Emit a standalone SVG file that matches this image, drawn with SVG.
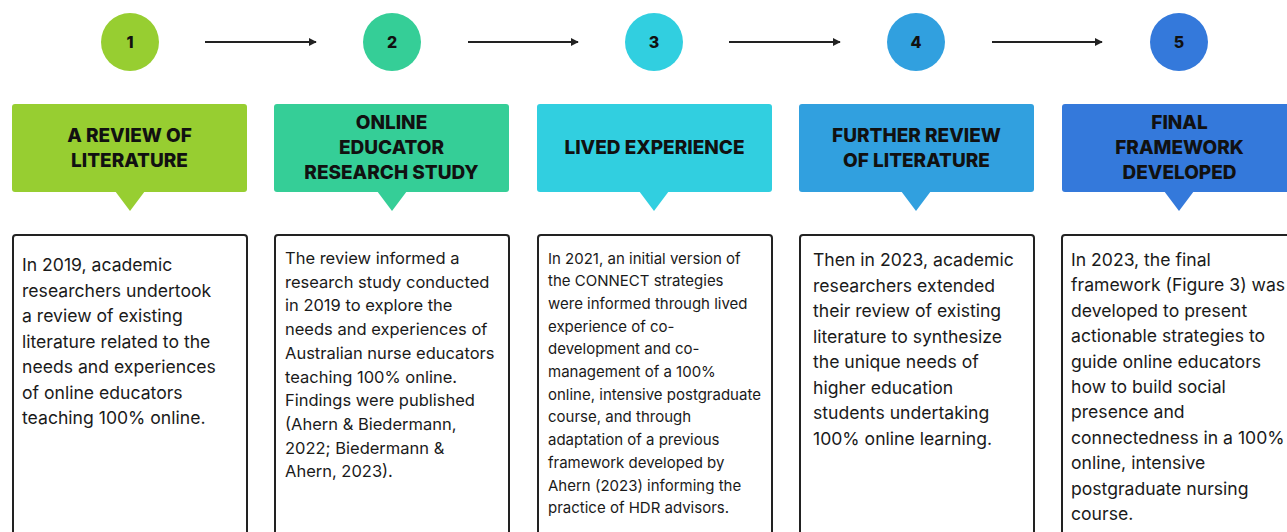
<svg xmlns="http://www.w3.org/2000/svg" width="1287" height="532" viewBox="0 0 1287 532">
<defs>
<style>
.num{font-family:Inter,"Liberation Sans",sans-serif;font-weight:800;font-size:16px;fill:#111;text-anchor:middle}
.ttl{font-family:Inter,"Liberation Sans",sans-serif;font-weight:800;font-size:19px;fill:#111;text-anchor:middle}
.body{font-family:Inter,"Liberation Sans",sans-serif;font-size:17.6px;fill:#1a1a1a}
.b2{font-size:16.5px}
.b3{font-size:15px}
.card{fill:#fff;stroke:#222;stroke-width:2}
.conn{stroke:#222;stroke-width:2;fill:none}
</style>
<marker id="ah" viewBox="0 0 10 10" refX="9" refY="5" markerWidth="4" markerHeight="4" orient="auto">
<path d="M0,0 L10,5 L0,10 z" fill="#222"/>
</marker>
</defs>
<rect width="1287" height="532" fill="#fff"/>

<g id="connectors">
<line class="conn" x1="205" y1="42" x2="316" y2="42" marker-end="url(#ah)"/>
<line class="conn" x1="468" y1="42" x2="578" y2="42" marker-end="url(#ah)"/>
<line class="conn" x1="729" y1="42" x2="840" y2="42" marker-end="url(#ah)"/>
<line class="conn" x1="992" y1="42" x2="1102" y2="42" marker-end="url(#ah)"/>
</g>

<g id="step1">
<circle cx="130" cy="42" r="29" fill="#97ce31"/>
<text class="num" x="130" y="48">1</text>
<rect x="12" y="104" width="235" height="88" rx="3" fill="#97ce31"/>
<path d="M115,191 L145,191 L130,211 z" fill="#97ce31"/>
<text class="ttl" x="129.5" y="142">A REVIEW OF</text>
<text class="ttl" x="129.5" y="167">LITERATURE</text>
<rect class="card" x="13" y="235" width="234" height="320" rx="3"/>
<text class="body" x="22"><tspan x="22" y="271">In 2019, academic</tspan><tspan x="22" y="296.5">researchers undertook</tspan><tspan x="22" y="322">a review of existing</tspan><tspan x="22" y="347.5">literature related to the</tspan><tspan x="22" y="373">needs and experiences</tspan><tspan x="22" y="398.5">of online educators</tspan><tspan x="22" y="424">teaching 100% online.</tspan></text>
</g>

<g id="step2">
<circle cx="392" cy="42" r="29" fill="#35ce97"/>
<text class="num" x="392" y="48">2</text>
<rect x="274" y="104" width="235" height="88" rx="3" fill="#35ce97"/>
<path d="M377,191 L407,191 L392,211 z" fill="#35ce97"/>
<text class="ttl" x="391.5" y="129">ONLINE</text>
<text class="ttl" x="391.5" y="154">EDUCATOR</text>
<text class="ttl" x="391.5" y="179">RESEARCH STUDY</text>
<rect class="card" x="275" y="235" width="234" height="320" rx="3"/>
<text class="body b2"><tspan x="285" y="264">The review informed a</tspan><tspan x="285" y="287.7">research study conducted</tspan><tspan x="285" y="311.4">in 2019 to explore the</tspan><tspan x="285" y="335.1">needs and experiences of</tspan><tspan x="285" y="358.8">Australian nurse educators</tspan><tspan x="285" y="382.5">teaching 100% online.</tspan><tspan x="285" y="406.2">Findings were published</tspan><tspan x="285" y="429.9">(Ahern &amp; Biedermann,</tspan><tspan x="285" y="453.6">2022; Biedermann &amp;</tspan><tspan x="285" y="477.3">Ahern, 2023).</tspan></text>
</g>

<g id="step3">
<circle cx="654" cy="42" r="29" fill="#31cfe0"/>
<text class="num" x="654" y="48">3</text>
<rect x="537" y="104" width="235" height="88" rx="3" fill="#31cfe0"/>
<path d="M639,191 L669,191 L654,211 z" fill="#31cfe0"/>
<text class="ttl" x="654.5" y="154">LIVED EXPERIENCE</text>
<rect class="card" x="538" y="235" width="234" height="320" rx="3"/>
<text class="body b3"><tspan x="548" y="263.5">In 2021, an initial version of</tspan><tspan x="548" y="286.2">the CONNECT strategies</tspan><tspan x="548" y="308.9">were informed through lived</tspan><tspan x="548" y="331.6">experience of co-</tspan><tspan x="548" y="354.3">development and co-</tspan><tspan x="548" y="377">management of a 100%</tspan><tspan x="548" y="399.7">online, intensive postgraduate</tspan><tspan x="548" y="422.4">course, and through</tspan><tspan x="548" y="445.1">adaptation of a previous</tspan><tspan x="548" y="467.8">framework developed by</tspan><tspan x="548" y="490.5">Ahern (2023) informing the</tspan><tspan x="548" y="513.2">practice of HDR advisors.</tspan></text>
</g>

<g id="step4">
<circle cx="916" cy="42" r="29" fill="#31a0df"/>
<text class="num" x="916" y="48">4</text>
<rect x="799" y="104" width="235" height="88" rx="3" fill="#31a0df"/>
<path d="M901,191 L931,191 L916,211 z" fill="#31a0df"/>
<text class="ttl" x="916.5" y="142">FURTHER REVIEW</text>
<text class="ttl" x="916.5" y="167">OF LITERATURE</text>
<rect class="card" x="800" y="235" width="234" height="320" rx="3"/>
<text class="body"><tspan x="813" y="266">Then in 2023, academic</tspan><tspan x="813" y="291.5">researchers extended</tspan><tspan x="813" y="317">their review of existing</tspan><tspan x="813" y="342.5">literature to synthesize</tspan><tspan x="813" y="368">the unique needs of</tspan><tspan x="813" y="393.5">higher education</tspan><tspan x="813" y="419">students undertaking</tspan><tspan x="813" y="444.5">100% online learning.</tspan></text>
</g>

<g id="step5">
<circle cx="1179" cy="42" r="29" fill="#3479db"/>
<text class="num" x="1179" y="48">5</text>
<rect x="1062" y="104" width="240" height="88" rx="3" fill="#3479db"/>
<path d="M1164,191 L1194,191 L1179,211 z" fill="#3479db"/>
<text class="ttl" x="1179.5" y="129">FINAL</text>
<text class="ttl" x="1179.5" y="154">FRAMEWORK</text>
<text class="ttl" x="1179.5" y="179">DEVELOPED</text>
<rect class="card" x="1062" y="235" width="240" height="320" rx="3"/>
<text class="body"><tspan x="1071" y="266">In 2023, the final</tspan><tspan x="1071" y="291.4">framework (Figure 3) was</tspan><tspan x="1071" y="316.8">developed to present</tspan><tspan x="1071" y="342.2">actionable strategies to</tspan><tspan x="1071" y="367.6">guide online educators</tspan><tspan x="1071" y="393">how to build social</tspan><tspan x="1071" y="418.4">presence and</tspan><tspan x="1071" y="443.8">connectedness in a 100%</tspan><tspan x="1071" y="469.2">online, intensive</tspan><tspan x="1071" y="494.6">postgraduate nursing</tspan><tspan x="1071" y="520">course.</tspan></text>
</g>
</svg>
